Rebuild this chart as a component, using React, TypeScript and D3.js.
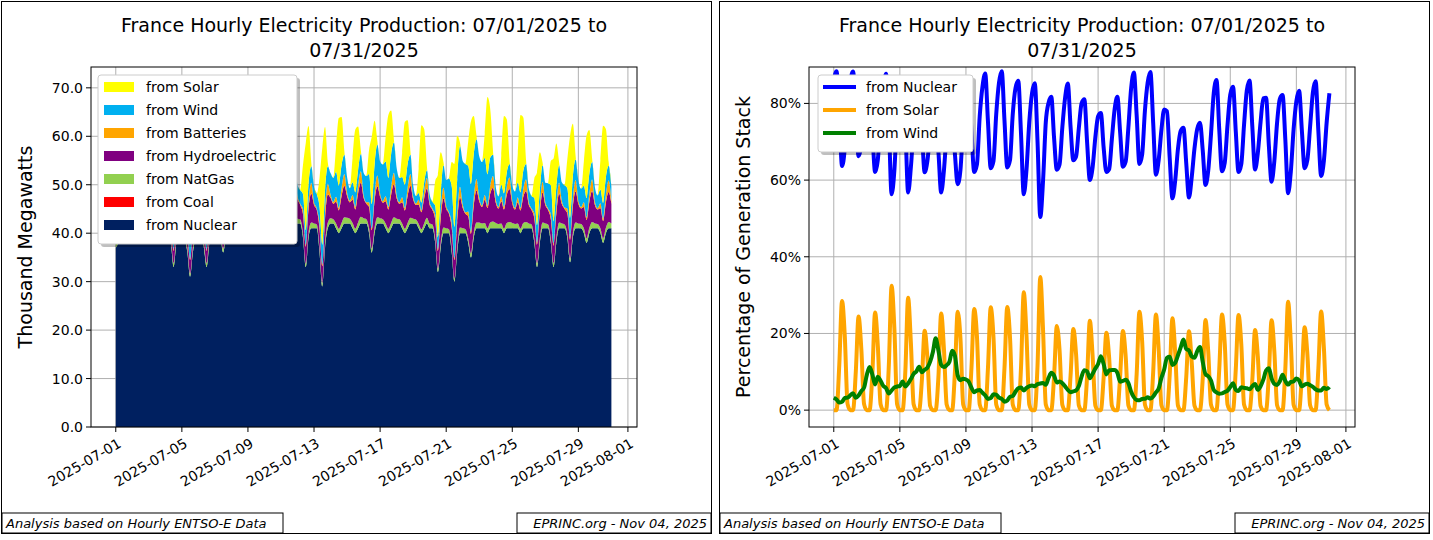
import React from 'react';
import * as d3 from 'd3';

// 4-hourly samples (00,04,08,12,16,20h) from 2025-07-01 00:00, thousand MW
const NUCLEAR: number[] = [
  37, 38, 39, 38, 39, 40,  40, 40, 39, 38, 39, 40,  40, 40, 39, 39, 39, 40,
  40, 40, 38, 33, 38, 40,  40, 39, 36, 31, 36, 39,  40, 40, 37, 33, 38, 40,
  40, 40, 39, 36, 39, 40,  40, 40, 40, 39, 40, 41,  41, 41, 40, 40, 40, 41,
  41, 41, 41, 40, 41, 42,  42, 42, 41, 40, 41, 42,  42, 42, 39, 33, 39, 41,
  41, 41, 36, 29, 37, 41,  42, 42, 41, 40, 41, 42,  42, 42, 41, 40, 41, 42,
  42, 42, 40, 36, 40, 42,  42, 42, 41, 40, 41, 42,  42, 42, 41, 40, 41, 42,
  42, 42, 41, 40, 41, 42,  41, 41, 38, 32, 37, 40,  40, 40, 36, 30, 36, 40,
  40, 40, 38, 35, 39, 41,  41, 41, 41, 40, 41, 41,  41, 41, 41, 40, 41, 41,
  41, 41, 41, 40, 41, 41,  41, 41, 38, 33, 38, 41,  41, 41, 38, 33, 38, 41,
  41, 41, 39, 34, 39, 41,  41, 41, 40, 38, 40, 41,  41, 41, 40, 38, 40, 41,
  41,
];
const COAL: number[] = [
  0, 0, 0, 0, 0, 0,  0, 0, 0, 0, 0, 0,  0, 0, 0, 0, 0, 0,  0, 0, 0, 0, 0, 0,
  0, 0, 0, 0, 0, 0,  0, 0, 0, 0, 0, 0,  0, 0, 0, 0, 0, 0,  0, 0, 0, 0, 0, 0,
  0, 0, 0, 0, 0, 0,  0, 0, 0, 0, 0, 0,  0, 0, 0, 0, 0, 0,  0, 0, 0, 0, 0, 0,
  0, 0, 0, 0, 0, 0,  0, 0, 0, 0, 0, 0,  0, 0, 0, 0, 0, 0,  0, 0, 0, 0, 0, 0,
  0, 0, 0, 0, 0, 0,  0, 0, 0, 0, 0, 0,  0, 0, 0, 0, 0, 0,  0, 0, 0, 0, 0, 0,
  0, 0, 0, 0, 0, 0,  0, 0, 0, 0, 0, 0,  0, 0, 0, 0, 0, 0,  0, 0, 0, 0, 0, 0,
  0, 0, 0, 0, 0, 0,  0, 0, 0, 0, 0, 0,  0, 0, 0, 0, 0, 0,  0, 0, 0, 0, 0, 0,
  0, 0, 0, 0, 0, 0,  0, 0, 0, 0, 0, 0,
  0,
];
const NATGAS: number[] = [
  1.8, 1.6, 1.5, 1.2, 1.4, 1.6,  1.3, 1.1, 1.0, 0.9, 1.1, 1.3,  1.1, 0.9, 1.0, 0.8, 1.0, 1.2,
  1.0, 0.8, 0.9, 0.8, 1.0, 1.2,  1.0, 0.8, 0.9, 0.7, 1.0, 1.2,  1.0, 0.8, 0.9, 0.8, 1.0, 1.2,
  1.0, 0.8, 0.9, 0.8, 1.0, 1.1,  0.9, 0.8, 0.9, 0.8, 1.0, 1.1,  0.9, 0.8, 0.9, 0.8, 1.0, 1.1,
  1.0, 0.8, 0.9, 0.8, 1.0, 1.2,  1.0, 0.8, 0.9, 0.8, 1.0, 1.2,  1.0, 0.8, 0.9, 0.7, 1.0, 1.2,
  1.0, 0.8, 0.9, 0.7, 1.0, 1.2,  1.1, 0.9, 1.0, 0.9, 1.1, 1.3,  1.2, 1.0, 1.1, 0.9, 1.2, 1.4,
  1.1, 0.9, 1.0, 0.8, 1.1, 1.3,  1.1, 0.9, 1.0, 0.9, 1.1, 1.3,  1.0, 0.9, 1.0, 0.9, 1.1, 1.2,
  1.0, 0.8, 0.9, 0.8, 1.0, 1.2,  1.0, 0.8, 0.9, 0.7, 1.0, 1.2,  1.0, 0.8, 0.9, 0.7, 1.0, 1.2,
  1.0, 0.8, 0.9, 0.8, 1.0, 1.2,  1.2, 1.0, 1.1, 1.0, 1.2, 1.4,  1.1, 0.9, 1.0, 0.9, 1.1, 1.3,
  1.1, 0.9, 1.0, 0.9, 1.1, 1.3,  1.0, 0.8, 0.9, 0.8, 1.0, 1.2,  1.0, 0.8, 0.9, 0.8, 1.0, 1.2,
  1.0, 0.8, 0.9, 0.8, 1.0, 1.2,  1.0, 0.9, 1.0, 0.9, 1.1, 1.3,  1.0, 0.9, 1.0, 0.9, 1.1, 1.3,
  1.0,
];
const HYDRO: number[] = [
  2.5, 2.0, 2.5, 2.0, 3.0, 4.0,  3.0, 2.0, 2.5, 2.0, 3.5, 4.5,  3.0, 2.2, 3.0, 2.5, 3.5, 4.5,
  3.0, 2.0, 3.0, 2.5, 4.0, 5.0,  3.2, 2.2, 3.0, 2.8, 4.0, 5.0,  3.0, 2.2, 3.0, 2.5, 3.8, 4.8,
  3.2, 2.4, 3.2, 2.8, 4.2, 5.2,  3.4, 2.6, 3.5, 3.0, 4.5, 5.5,  3.5, 2.6, 3.8, 3.2, 4.8, 5.8,
  3.8, 2.8, 4.0, 3.2, 5.0, 6.0,  4.0, 3.0, 4.2, 3.4, 5.2, 6.2,  4.0, 3.0, 4.0, 3.5, 5.0, 6.0,
  3.8, 3.0, 4.0, 3.5, 5.0, 5.8,  4.2, 3.2, 4.5, 3.8, 5.5, 6.5,  4.5, 3.4, 4.8, 4.0, 6.0, 7.0,
  4.2, 3.2, 4.4, 3.8, 5.6, 6.4,  4.4, 3.4, 4.6, 4.0, 5.8, 6.8,  4.2, 3.2, 4.4, 3.8, 5.6, 6.6,
  4.0, 3.0, 4.0, 3.5, 5.2, 6.0,  3.8, 3.0, 4.0, 3.6, 5.0, 6.0,  4.0, 3.2, 4.2, 3.8, 5.2, 6.2,
  4.2, 3.2, 4.6, 4.0, 5.6, 6.6,  4.4, 3.4, 4.8, 4.2, 6.0, 7.0,  4.2, 3.2, 4.6, 4.0, 5.8, 6.8,
  4.0, 3.0, 4.4, 3.8, 5.4, 6.4,  3.8, 3.0, 4.2, 3.8, 5.2, 6.2,  3.8, 3.0, 4.0, 3.6, 5.0, 6.0,
  4.0, 3.2, 4.2, 3.8, 5.4, 6.4,  4.0, 3.2, 4.4, 3.8, 5.4, 6.4,  3.8, 3.0, 4.2, 3.6, 5.2, 6.2,
  4.0,
];
const BATTERIES: number[] = [
  0.3, 0.2, 0.5, 0.2, 0.8, 1.2,  0.4, 0.2, 0.6, 0.3, 1.0, 1.5,  0.4, 0.2, 0.6, 0.3, 1.0, 1.6,
  0.5, 0.2, 0.8, 0.3, 1.2, 1.8,  0.5, 0.2, 0.8, 0.3, 1.2, 1.8,  0.5, 0.2, 0.8, 0.3, 1.2, 1.8,
  0.5, 0.2, 0.8, 0.3, 1.2, 1.8,  0.6, 0.3, 1.0, 0.4, 1.4, 2.0,  0.6, 0.3, 1.0, 0.4, 1.4, 2.0,
  0.6, 0.3, 1.0, 0.4, 1.5, 2.2,  0.6, 0.3, 1.0, 0.4, 1.5, 2.2,  0.6, 0.3, 1.0, 0.4, 1.5, 2.2,
  0.6, 0.3, 1.0, 0.4, 1.5, 2.2,  0.7, 0.3, 1.0, 0.5, 1.6, 2.4,  0.7, 0.3, 1.0, 0.5, 1.6, 2.4,
  0.6, 0.3, 1.0, 0.4, 1.5, 2.2,  0.7, 0.3, 1.0, 0.5, 1.6, 2.4,  0.7, 0.3, 1.0, 0.5, 1.6, 2.4,
  0.6, 0.3, 1.0, 0.4, 1.5, 2.2,  0.6, 0.3, 1.0, 0.4, 1.5, 2.2,  0.6, 0.3, 1.0, 0.4, 1.5, 2.2,
  0.7, 0.3, 1.0, 0.5, 1.6, 2.4,  0.7, 0.3, 1.0, 0.5, 1.6, 2.4,  0.7, 0.3, 1.0, 0.5, 1.6, 2.4,
  0.7, 0.3, 1.0, 0.5, 1.6, 2.4,  0.6, 0.3, 1.0, 0.4, 1.5, 2.2,  0.6, 0.3, 1.0, 0.4, 1.5, 2.2,
  0.7, 0.3, 1.0, 0.5, 1.6, 2.4,  0.7, 0.3, 1.0, 0.5, 1.6, 2.4,  0.7, 0.3, 1.0, 0.5, 1.6, 2.4,
  0.6,
];
const WIND: number[] = [
  1.4, 1.2, 1.0, 1.3, 1.8, 1.6,  1.8, 2.0, 1.6, 2.2, 2.8, 3.0,  4.5, 5.5, 5.0, 4.2, 5.2, 4.0,
  3.0, 2.6, 2.2, 3.0, 3.6, 3.2,  3.0, 3.4, 3.0, 3.8, 4.6, 5.0,  5.0, 5.5, 5.0, 5.6, 6.5, 7.0,
  8.0, 10.0, 9.0, 7.5, 7.0, 6.5,  6.5, 8.0, 8.5, 6.0, 5.0, 4.5,  4.0, 3.6, 3.2, 3.0, 3.2, 2.8,
  2.2, 1.8, 1.6, 2.0, 2.6, 2.2,  1.6, 1.4, 1.2, 1.6, 2.2, 2.0,  2.4, 2.8, 3.2, 3.0, 3.6, 3.4,
  3.2, 3.0, 3.5, 4.0, 4.4, 3.6,  4.4, 5.0, 5.2, 4.6, 4.8, 4.0,  3.2, 2.6, 2.6, 3.0, 3.2, 3.6,
  4.6, 5.4, 5.8, 5.0, 6.0, 6.4,  6.6, 7.6, 7.2, 6.0, 6.8, 6.2,  5.6, 5.0, 4.2, 4.8, 5.0, 4.0,
  2.4, 1.6, 1.4, 1.6, 1.8, 1.6,  1.6, 1.4, 1.8, 2.4, 3.2, 4.6,  5.4, 7.0, 7.6, 6.4, 7.4, 8.4,
  9.0, 10.0, 9.4, 9.8, 9.0, 8.2,  8.6, 9.0, 7.6, 6.4, 5.8, 4.4,  2.6, 2.2, 2.4, 2.8, 3.0, 2.8,
  3.0, 3.4, 3.0, 3.2, 3.8, 3.2,  2.8, 2.6, 3.2, 3.6, 3.0, 3.4,  4.0, 5.2, 6.0, 4.6, 4.0, 3.6,
  3.8, 4.6, 4.2, 4.0, 4.6, 4.2,  4.2, 3.8, 3.4, 4.0, 4.2, 3.6,  3.0, 2.6, 2.8, 3.2, 3.6, 3.0,
  3.0,
];
const SOLAR: number[] = [
  0, 0, 6, 17, 11, 0.8,  0, 0, 5, 14, 9, 0.8,  0, 0, 5, 16, 10, 0.8,
  0, 0, 6, 19, 13, 0.8,  0, 0, 5, 16, 10, 0.8,  0, 0, 4, 11, 8, 0.6,
  0, 0, 5, 16, 10, 0.8,  0, 0, 6, 17, 12, 0.8,  0, 0, 6, 17, 12, 0.8,
  0, 0, 6, 17, 12, 0.8,  0, 0, 6, 17, 12, 0.8,  0, 0, 6, 18, 12, 0.8,
  0, 0, 6, 20, 13, 0.8,  0, 0, 5, 14, 10, 0.8,  0, 0, 5, 13, 9, 0.7,
  0, 0, 5, 14, 9, 0.7,  0, 0, 5, 13, 9, 0.7,  0, 0, 5, 13, 9, 0.7,
  0, 0, 5, 16, 11, 0.8,  0, 0, 5, 13, 9, 0.7,  0, 0, 5, 13, 9, 0.7,
  0, 0, 5, 13, 8, 0.7,  0, 0, 5, 16, 10, 0.8,  0, 0, 6, 16, 11, 0.8,
  0, 0, 6, 16, 11, 0.8,  0, 0, 4, 11, 8, 0.6,  0, 0, 5, 13, 9, 0.7,
  0, 0, 6, 17, 11, 0.8,  0, 0, 5, 13, 9, 0.7,  0, 0, 6, 16, 10, 0.8,
  0,
];

const STEP_HOURS = 4;
const START = new Date(Date.UTC(2025, 6, 1));
const X_TICKS = ['2025-07-01', '2025-07-05', '2025-07-09', '2025-07-13', '2025-07-17', '2025-07-21', '2025-07-25', '2025-07-29', '2025-08-01'];
const MW_TICKS = [0, 10, 20, 30, 40, 50, 60, 70];
const PCT_TICKS = [0, 20, 40, 60, 80];

const STACK = [
  { key: 'nuclear', label: 'from Nuclear', color: '#002060', values: NUCLEAR },
  { key: 'coal', label: 'from Coal', color: '#ff0000', values: COAL },
  { key: 'natgas', label: 'from NatGas', color: '#92d050', values: NATGAS },
  { key: 'hydro', label: 'from Hydroelectric', color: '#800080', values: HYDRO },
  { key: 'batteries', label: 'from Batteries', color: '#ffa500', values: BATTERIES },
  { key: 'wind', label: 'from Wind', color: '#00b0f0', values: WIND },
  { key: 'solar', label: 'from Solar', color: '#ffff00', values: SOLAR },
];

const FONT = 'DejaVu Sans, sans-serif';
const dates = NUCLEAR.map((_, i) => new Date(START.getTime() + i * STEP_HOURS * 3600e3));
const rows = dates.map((d, i) => {
  const r: Record<string, number> = {};
  STACK.forEach(s => { r[s.key] = s.values[i]; });
  return r;
});
const totals = rows.map(r => STACK.reduce((a, s) => a + r[s.key], 0));

const M = { left: 91, right: 637, top: 67, bottom: 427 };
const dayMs = 86400e3;
const xDomain = [new Date(START.getTime() - 1.5 * dayMs), new Date(START.getTime() + 31.55 * dayMs)];

function Panel({ ox, children, ylabel, legend }: any) {
  return (
    <g transform={`translate(${ox},0)`}>
      <rect x={1.5} y={1.5} width={710} height={532} fill="#fff" stroke="#000" />
      <text x={364} y={32} textAnchor="middle" fontSize={19} fontFamily={FONT}>France Hourly Electricity Production: 07/01/2025 to</text>
      <text x={364} y={57} textAnchor="middle" fontSize={19} fontFamily={FONT}>07/31/2025</text>
      <text transform={`translate(32,${(M.top + M.bottom) / 2}) rotate(-90)`} textAnchor="middle" fontSize={19} fontFamily={FONT}>{ylabel}</text>
      {children}
      <rect x={M.left} y={M.top} width={M.right - M.left} height={M.bottom - M.top} fill="none" stroke="#000" strokeWidth={1} />
      {legend}
      <rect x={2} y={513} width={281} height={20} fill="#fff" stroke="#000" />
      <text x={6} y={528} fontSize={13} fontStyle="italic" fontFamily={FONT}>Analysis based on Hourly ENTSO-E Data</text>
      <rect x={517} y={513} width={194} height={20} fill="#fff" stroke="#000" />
      <text x={707} y={528} textAnchor="end" fontSize={13} fontStyle="italic" fontFamily={FONT}>EPRINC.org - Nov 04, 2025</text>
    </g>
  );
}

function XAxis({ x }: any) {
  return (
    <g>
      {X_TICKS.map(t => {
        const px = x(new Date(t + 'T00:00:00Z'));
        return (
          <g key={t}>
            <line x1={px} x2={px} y1={M.top} y2={M.bottom} stroke="#b0b0b0" strokeWidth={1} />
            <line x1={px} x2={px} y1={M.bottom} y2={M.bottom + 5} stroke="#000" />
            <text transform={`translate(${px + 4},${M.bottom + 15}) rotate(-30)`} textAnchor="end" dominantBaseline="central" fontSize={14} fontFamily={FONT}>{t}</text>
          </g>
        );
      })}
    </g>
  );
}

function YAxis({ y, ticks, fmt }: any) {
  return (
    <g>
      {ticks.map((t: number) => (
        <g key={t}>
          <line x1={M.left} x2={M.right} y1={y(t)} y2={y(t)} stroke="#b0b0b0" strokeWidth={1} />
          <line x1={M.left - 5} x2={M.left} y1={y(t)} y2={y(t)} stroke="#000" />
          <text x={M.left - 8} y={y(t)} textAnchor="end" dominantBaseline="central" fontSize={14} fontFamily={FONT}>{fmt(t)}</text>
        </g>
      ))}
    </g>
  );
}

function Legend({ x0, y0, w, items, line }: any) {
  const h = items.length * 23 + 8;
  return (
    <g>
      <rect x={x0 + 3} y={y0 + 3} width={w} height={h} rx={3} fill="#000" opacity={0.25} />
      <rect x={x0} y={y0} width={w} height={h} rx={3} fill="#fff" stroke="#ccc" />
      {items.map((it: any, i: number) => {
        const cy = y0 + 12 + i * 23;
        return (
          <g key={it.label}>
            {line
              ? <line x1={x0 + 5} x2={x0 + 38} y1={cy} y2={cy} stroke={it.color} strokeWidth={4} />
              : <rect x={x0 + 6} y={cy - 5} width={30} height={10} fill={it.color} />}
            <text x={x0 + 48} y={cy} dominantBaseline="central" fontSize={14} fontFamily={FONT}>{it.label}</text>
          </g>
        );
      })}
    </g>
  );
}

export default function App() {
  const x = d3.scaleUtc().domain(xDomain).range([M.left, M.right]);
  const yMw = d3.scaleLinear().domain([0, 74.3]).range([M.bottom, M.top]);
  const yPct = d3.scaleLinear().domain([-4.4, 89.5]).range([M.bottom, M.top]);

  const series = d3.stack<Record<string, number>>().keys(STACK.map(s => s.key))(rows);
  const area = d3.area<any>()
    .x((_d, i) => x(dates[i]))
    .y0(d => yMw(d[0]))
    .y1(d => yMw(d[1]))
    .curve(d3.curveMonotoneX);

  const pctLines = [
    { label: 'from Nuclear', color: '#0000ff', values: NUCLEAR },
    { label: 'from Solar', color: '#ffa500', values: SOLAR },
    { label: 'from Wind', color: '#008000', values: WIND },
  ];
  const line = d3.line<number>()
    .x((_d, i) => x(dates[i]))
    .y(d => yPct(d))
    .curve(d3.curveMonotoneX);

  const legendLeft = [...STACK].reverse();

  return (
    <svg width={1433} height={540} style={{ display: 'block', position: 'absolute', left: 0, top: 0 }}>
      <Panel ox={0} ylabel="Thousand Megawatts"
        legend={<Legend x0={98} y0={75} w={199} items={legendLeft} />}>
        <YAxis y={yMw} ticks={MW_TICKS} fmt={(t: number) => t.toFixed(1)} />
        <XAxis x={x} />
        {series.map((s, i) => (
          <path key={s.key} d={area(s as any) || ''} fill={STACK[i].color} />
        ))}
      </Panel>
      <Panel ox={718} ylabel="Percentage of Generation Stack"
        legend={<Legend x0={100} y0={75} w={155} items={pctLines} line />}>
        <YAxis y={yPct} ticks={PCT_TICKS} fmt={(t: number) => `${t}%`} />
        <XAxis x={x} />
        {pctLines.map(p => (
          <path key={p.label} d={line(p.values.map((v, i) => (v / totals[i]) * 100)) || ''}
            fill="none" stroke={p.color} strokeWidth={4} strokeLinejoin="round" />
        ))}
      </Panel>
    </svg>
  );
}
